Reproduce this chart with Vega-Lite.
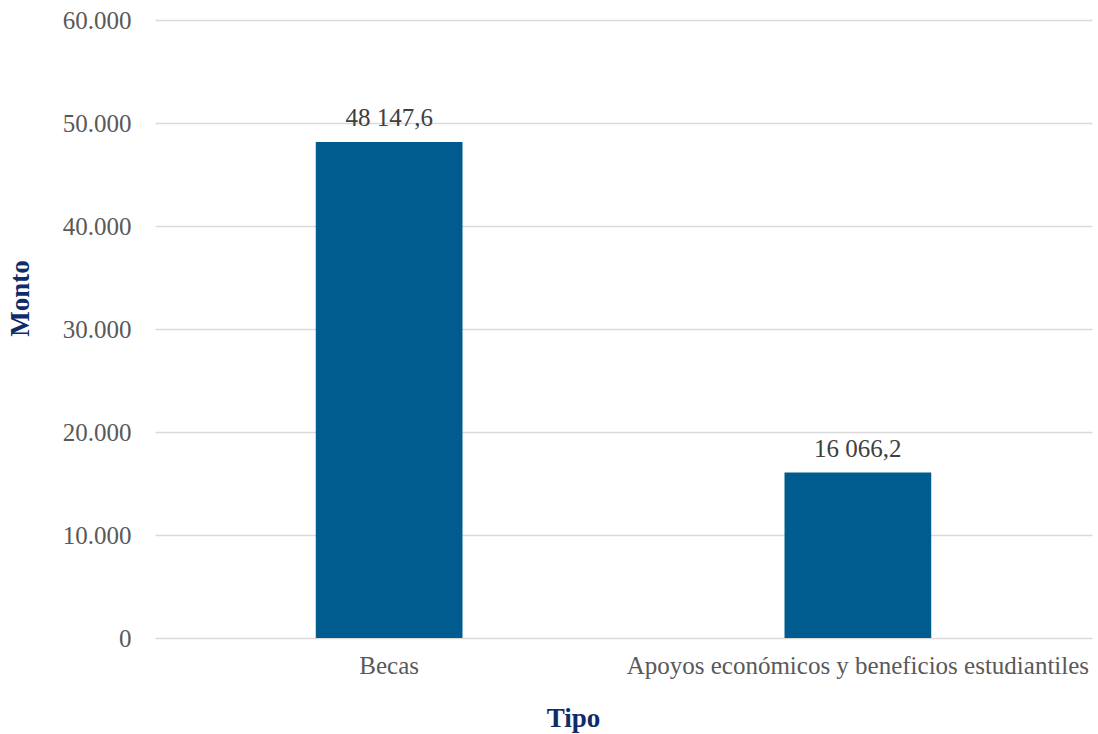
{
  "$schema": "https://vega.github.io/schema/vega-lite/v6.json",
  "width": 937,
  "height": 618,
  "autosize": {"type": "none"},
  "padding": {"left": 155, "top": 20, "right": 6, "bottom": 96},
  "background": "white",
  "config": {
    "view": {"stroke": null},
    "font": "Liberation Serif",
    "locale": {"number": {"decimal": ",", "thousands": ".", "grouping": [3], "currency": ["", ""]}}
  },
  "data": {
    "values": [
      {"Tipo": "Becas", "Monto": 48147.6, "Etiqueta": "48 147,6"},
      {"Tipo": "Apoyos económicos y beneficios estudiantiles", "Monto": 16066.2, "Etiqueta": "16 066,2"}
    ]
  },
  "encoding": {
    "x": {
      "field": "Tipo",
      "type": "nominal",
      "sort": null,
      "scale": {"paddingInner": 0.687, "paddingOuter": 0.343},
      "axis": {
        "title": "Tipo",
        "labelAngle": 0,
        "labelLimit": 0,
        "labelFont": "Liberation Serif",
        "labelFontSize": 25,
        "labelColor": "#595959",
        "labelPadding": 15,
        "ticks": false,
        "domain": false,
        "titleFont": "Liberation Serif",
        "titleFontSize": 27,
        "titleFontWeight": "bold",
        "titleColor": "#0E2B6B",
        "titleX": 418,
        "titleY": 80,
        "titleAlign": "center",
        "titleBaseline": "middle"
      }
    },
    "y": {
      "field": "Monto",
      "type": "quantitative",
      "scale": {"domain": [0, 60000]},
      "axis": {
        "title": "Monto",
        "values": [0, 10000, 20000, 30000, 40000, 50000, 60000],
        "format": ",d",
        "labelFont": "Liberation Serif",
        "labelFontSize": 25,
        "labelColor": "#595959",
        "labelPadding": 24,
        "ticks": false,
        "domain": false,
        "grid": true,
        "gridColor": "#D9D9D9",
        "gridWidth": 1.5,
        "titleFont": "Liberation Serif",
        "titleFontSize": 27,
        "titleFontWeight": "bold",
        "titleColor": "#0E2B6B",
        "titleAngle": -90,
        "titleX": -135,
        "titleY": 278,
        "titleAlign": "center",
        "titleBaseline": "middle"
      }
    }
  },
  "layer": [
    {"mark": {"type": "bar", "color": "#005B8F"}},
    {
      "mark": {"type": "text", "baseline": "alphabetic", "dy": -16, "fontSize": 25, "color": "#404040", "font": "Liberation Serif"},
      "encoding": {"text": {"field": "Etiqueta"}}
    }
  ]
}
